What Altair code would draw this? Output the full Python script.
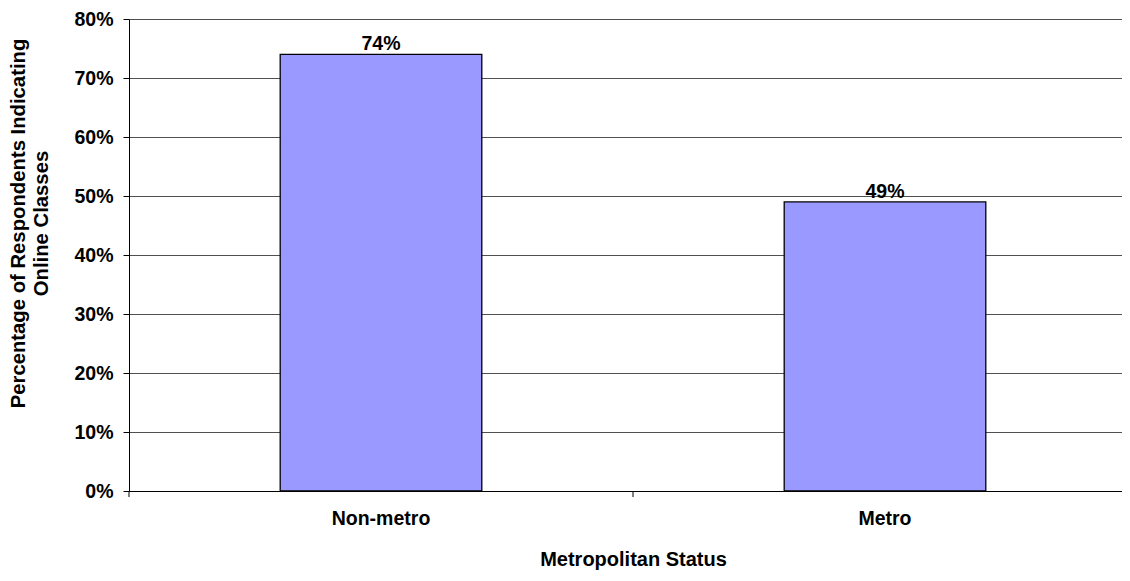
import altair as alt
import pandas as pd

categories = ["Non-metro", "Metro"]
values = [0.74, 0.49]
labels = ["74%", "49%"]

df = pd.DataFrame({"status": categories, "pct": values, "label": labels})

FONT = "Liberation Sans"
FS = 19.5

PI = 0.6
PO = 0.3
PLOT_W = 1008
PLOT_H = 472
STEP = PLOT_W / (2 - PI + 2 * PO)

x_scale = alt.Scale(paddingInner=PI, paddingOuter=PO)

x_enc = alt.X(
    "status:N",
    sort=categories,
    title="Metropolitan Status",
    scale=x_scale,
    axis=alt.Axis(
        labelAngle=0,
        ticks=False,
        domainColor="#000000",
        labelPadding=18,
        titlePadding=22,
        grid=False,
    ),
)

y_enc = alt.Y(
    "pct:Q",
    scale=alt.Scale(domain=[0, 0.8], nice=False),
    title=["Percentage of Respondents Indicating", "Online Classes"],
    axis=alt.Axis(
        format=".0%",
        values=[0, 0.1, 0.2, 0.3, 0.4, 0.5, 0.6, 0.7, 0.8],
        tickSize=6,
        labelPadding=10,
        titlePadding=22,
        titleLineHeight=23,
        titleFontSize=20.3,
        titleY=204,
        grid=True,
        gridColor="#505050",
        gridWidth=1,
        domainColor="#000000",
        tickColor="#000000",
    ),
)

bars = alt.Chart(df).mark_bar(
    color="#9999FF", stroke="#000000", strokeWidth=1.3
).encode(x=x_enc, y=y_enc)

text = alt.Chart(df).mark_text(
    baseline="alphabetic", dy=-4, fontSize=FS, fontWeight="bold", font=FONT, color="#000000"
).encode(x=alt.X("status:N", sort=categories), y="pct:Q", text="label:N")

# category-separator ticks below the x axis (Excel style): half the inner gap left of each band
sep_ticks = alt.Chart(df).mark_rule(
    color="#000000", strokeWidth=1, xOffset=-PI * STEP / 2
).encode(
    x=alt.X("status:N", sort=categories, bandPosition=0),
    y=alt.value(PLOT_H),
    y2=alt.value(PLOT_H + 6),
)

chart = (
    alt.layer(bars, text, sep_ticks)
    .properties(
        width=PLOT_W,
        height=PLOT_H,
        autosize=alt.AutoSizeParams(type="none"),
        padding={"left": 121, "top": 11, "right": -15, "bottom": 82},
    )
    .configure_view(stroke=None)
    .configure_axis(
        labelFont=FONT,
        titleFont=FONT,
        labelFontSize=FS,
        titleFontSize=20,
        labelFontWeight="bold",
        titleFontWeight="bold",
        labelColor="#000000",
        titleColor="#000000",
    )
)

chart.save("out.html", embed_options={"renderer": "svg", "actions": False})
